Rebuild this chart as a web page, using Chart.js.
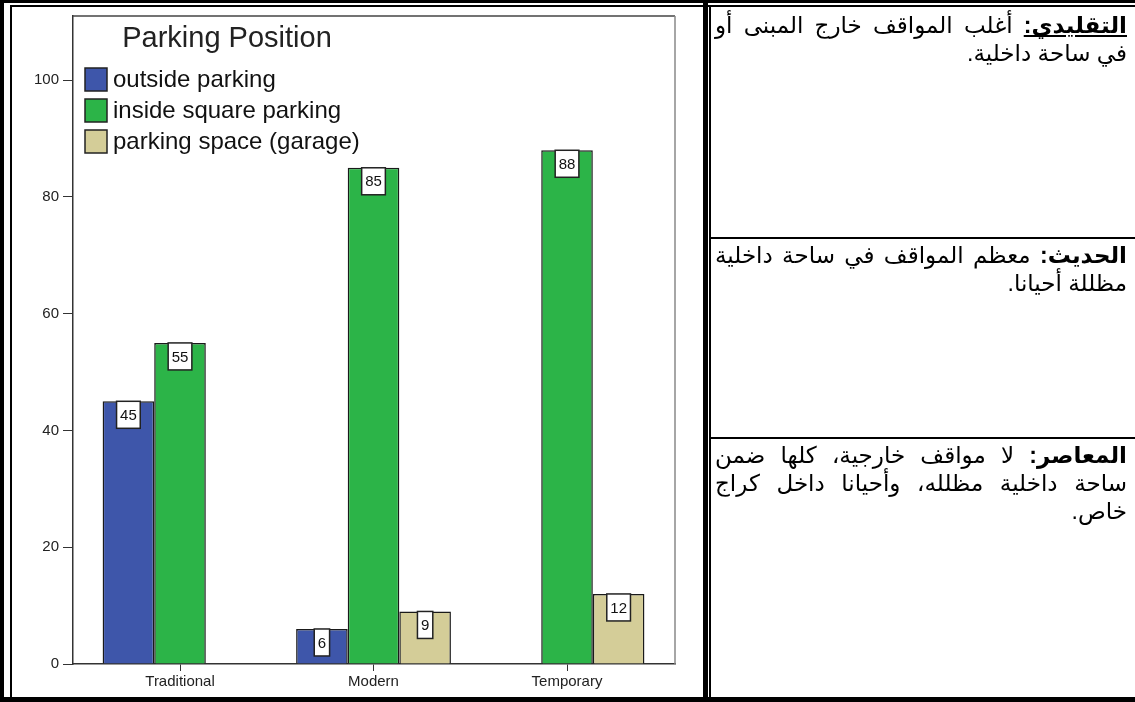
<!DOCTYPE html>
<html lang="ar">
<head>
    <meta charset="UTF-8">
    <title>Parking Position</title>
    <script src="https://cdn.jsdelivr.net/npm/chart.js"></script>
    <style>
        html, body { margin: 0; padding: 0; background: #fff; }
        body { width: 1135px; height: 702px; position: relative; overflow: hidden; font-family: "Liberation Sans", Arial, "DejaVu Sans", sans-serif; }
        .ln { position: absolute; background: #000; }
        .cell { position: absolute; left: 711px; width: 412px; padding: 0 8px 0 4px; direction: rtl; font-size: 23px; line-height: 28px; color: #000; }
        .cell div { white-space: nowrap; }
        .cell .full { text-align: justify; text-align-last: justify; }
        #chart { position: absolute; left: 0; top: 0; }
    </style>
</head>
<body>

    <canvas id="chart" width="1135" height="702"></canvas>

    <!-- table borders -->
    <div class="ln" style="left:0;top:0;width:1135px;height:3px"></div>
    <div class="ln" style="left:10px;top:5px;width:1125px;height:2px"></div>
    <div class="ln" style="left:0;top:0;width:4px;height:702px"></div>
    <div class="ln" style="left:10px;top:5px;width:2px;height:697px"></div>
    <div class="ln" style="left:0;top:697px;width:1135px;height:5px"></div>
    <div class="ln" style="left:703px;top:0;width:5px;height:702px"></div>
    <div class="ln" style="left:709px;top:5px;width:2px;height:697px"></div>
    <div class="ln" style="left:711px;top:237px;width:424px;height:2px"></div>
    <div class="ln" style="left:711px;top:437px;width:424px;height:2px"></div>

    <div class="cell" style="top:11px">
        <div class="full"><b><u>التقليدي:</u></b> أغلب المواقف خارج المبنى أو</div>
        <div>في ساحة داخلية.</div>
    </div>
    <div class="cell" style="top:241px">
        <div class="full"><b>الحديث:</b> معظم المواقف في ساحة داخلية</div>
        <div>مظللة أحيانا.</div>
    </div>
    <div class="cell" style="top:441px">
        <div class="full"><b>المعاصر:</b> لا مواقف خارجية، كلها ضمن</div>
        <div class="full">ساحة داخلية مظلله، وأحيانا داخل كراج</div>
        <div>خاص.</div>
    </div>

    <script>
        const categories = ['Traditional', 'Modern', 'Temporary'];
        const seriesNames = ['outside parking', 'inside square parking', 'parking space (garage)'];
        const outsideParking = [45, 6, null];
        const insideSquareParking = [55, 85, 88];
        const garageParking = [null, 9, 12];
        const chartTitle = 'Parking Position';
        const yMax = 111;

        const fontFamily = '"Liberation Sans", Arial, sans-serif';
        const colors = ['rgb(62, 86, 170)', 'rgb(44, 180, 72)', 'rgb(212, 205, 152)'];

        function toPoints(values) {
            return values.map((v, i) => ({ x: i, y: v }));
        }

        // frame, title, legend and value boxes (SPSS style)
        const spssDecor = {
            id: 'spssDecor',
            beforeDatasetsDraw(chart) {
                const { ctx, chartArea: a } = chart;
                ctx.save();
                ctx.lineWidth = 1.5;
                ctx.strokeStyle = '#444';
                ctx.beginPath();
                ctx.moveTo(a.left, a.top);
                ctx.lineTo(a.right, a.top);
                ctx.stroke();
                ctx.strokeStyle = '#888';
                ctx.beginPath();
                ctx.moveTo(a.right, a.top);
                ctx.lineTo(a.right, a.bottom);
                ctx.stroke();

                ctx.fillStyle = '#222';
                ctx.font = '29px ' + fontFamily;
                ctx.textAlign = 'center';
                ctx.textBaseline = 'alphabetic';
                ctx.fillText(chartTitle, a.left + 154, a.top + 31);

                ctx.font = '24px ' + fontFamily;
                ctx.textAlign = 'left';
                ctx.textBaseline = 'middle';
                chart.data.datasets.forEach((ds, i) => {
                    const y = a.top + 52 + i * 31;
                    ctx.fillStyle = ds.backgroundColor;
                    ctx.fillRect(a.left + 12, y, 22, 23);
                    ctx.strokeStyle = '#222';
                    ctx.lineWidth = 1.5;
                    ctx.strokeRect(a.left + 12, y, 22, 23);
                    ctx.fillStyle = '#111';
                    ctx.fillText(ds.label, a.left + 40, y + 12);
                });
                ctx.restore();
            },
            afterDatasetsDraw(chart) {
                const { ctx } = chart;
                ctx.save();
                ctx.font = '15px ' + fontFamily;
                ctx.textAlign = 'center';
                ctx.textBaseline = 'middle';
                chart.data.datasets.forEach((ds, i) => {
                    const meta = chart.getDatasetMeta(i);
                    meta.data.forEach((bar, j) => {
                        const v = ds.data[j].y;
                        if (v === null) return;
                        const txt = String(v);
                        const w = ctx.measureText(txt).width + 7;
                        const h = 27;
                        const x = bar.x - w / 2;
                        ctx.fillStyle = '#fff';
                        ctx.fillRect(x, bar.y, w, h);
                        ctx.strokeStyle = '#222';
                        ctx.lineWidth = 1.5;
                        ctx.strokeRect(x, bar.y, w, h);
                        ctx.fillStyle = '#111';
                        ctx.fillText(txt, bar.x, bar.y + h / 2 + 1);
                    });
                });
                ctx.restore();
            }
        };

        new Chart(document.getElementById('chart'), {
            type: 'bar',
            data: {
                datasets: [
                    { label: seriesNames[0], data: toPoints(outsideParking), backgroundColor: colors[0] },
                    { label: seriesNames[1], data: toPoints(insideSquareParking), backgroundColor: colors[1] },
                    { label: seriesNames[2], data: toPoints(garageParking), backgroundColor: colors[2] }
                ]
            },
            options: {
                responsive: false,
                animation: false,
                events: [],
                layout: { padding: { left: 0, top: 16, right: 460, bottom: 0 } },
                datasets: {
                    bar: {
                        borderColor: '#1a1a1a',
                        borderWidth: 1.5,
                        categoryPercentage: 0.8,
                        barPercentage: 1.0
                    }
                },
                plugins: {
                    legend: { display: false },
                    tooltip: { enabled: false }
                },
                scales: {
                    x: {
                        type: 'linear',
                        offset: false,
                        min: -0.553,
                        max: 2.558,
                        afterFit: s => { s.height = 38; },
                        border: { display: true, color: '#333', width: 1.5 },
                        grid: { offset: false, drawOnChartArea: false, drawTicks: true, tickLength: 7, color: '#333' },
                        ticks: {
                            stepSize: 1,
                            includeBounds: false,
                            padding: 2,
                            color: '#222',
                            font: { family: fontFamily, size: 15 },
                            maxRotation: 0,
                            callback: v => categories[v] ?? ''
                        }
                    },
                    y: {
                        min: 0,
                        max: yMax,
                        afterFit: s => { s.width = 73; },
                        border: { display: true, color: '#333', width: 1.5 },
                        grid: { drawOnChartArea: false, drawTicks: true, tickLength: 10, color: '#333' },
                        ticks: {
                            stepSize: 20,
                            includeBounds: false,
                            padding: 4,
                            color: '#222',
                            font: { family: fontFamily, size: 15 }
                        }
                    }
                }
            },
            plugins: [spssDecor]
        });
    </script>

</body>
</html>
